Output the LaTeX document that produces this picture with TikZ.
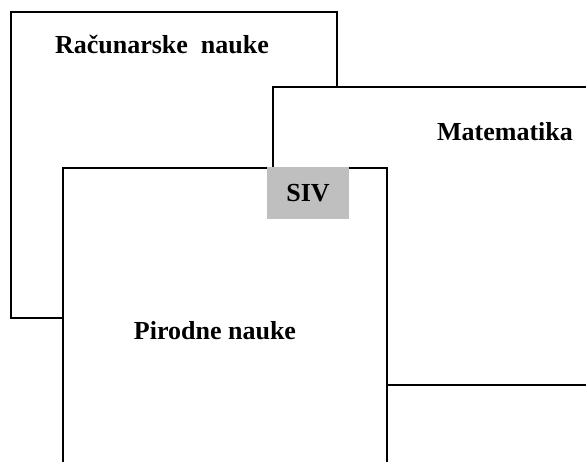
\documentclass[tikz,border=0pt]{standalone}
\usepackage{fontspec}
\setmainfont{Liberation Serif}
\usepackage{tikz}
\usetikzlibrary{positioning}
\tikzstyle{field} = [draw, fill=white, line width=2pt, inner sep=0pt]
\tikzstyle{fieldname} = [inner sep=0pt, font=\fontsize{26}{31}\selectfont\bfseries]

\begin{document}
\begin{tikzpicture}[x=1pt,y=-1pt]
                    \useasboundingbox (0,0) rectangle (586,462);
                    \clip (0,0) rectangle (586,462);
                    \node at (0,0)    [xshift= 174pt,yshift=-165pt,field,minimum width=326pt,minimum height=306pt] (nRac) {};
                    \node at (0,0)    [xshift=446.5pt,yshift=-236pt,field,minimum width=347pt,minimum height=298pt] (nMat) {};
                    \node at (0,0)    [xshift= 225pt,yshift=-334pt,field,minimum width=324pt,minimum height=332pt] (nPir) {};
                    \node at (0,0)    [xshift= 308pt,yshift=-193pt,fill=black!25,inner sep=0pt,minimum width=82pt,minimum height=52pt] (nSIV) {};
                    \node at (nRac.north west) [xshift=152pt,yshift= -33pt,fieldname] (tRac) {Računarske\ \ nauke};
                    \node at (nMat.north west) [xshift=233pt,yshift= -46pt,fieldname] (tMat) {Matematika};
                    \node at (nPir.north west) [xshift=153pt,yshift=-164pt,fieldname] (tPir) {Pirodne nauke};
                    \node at (nSIV)            [fieldname] (tSIV) {SIV};
                \end{tikzpicture}
\end{document}
